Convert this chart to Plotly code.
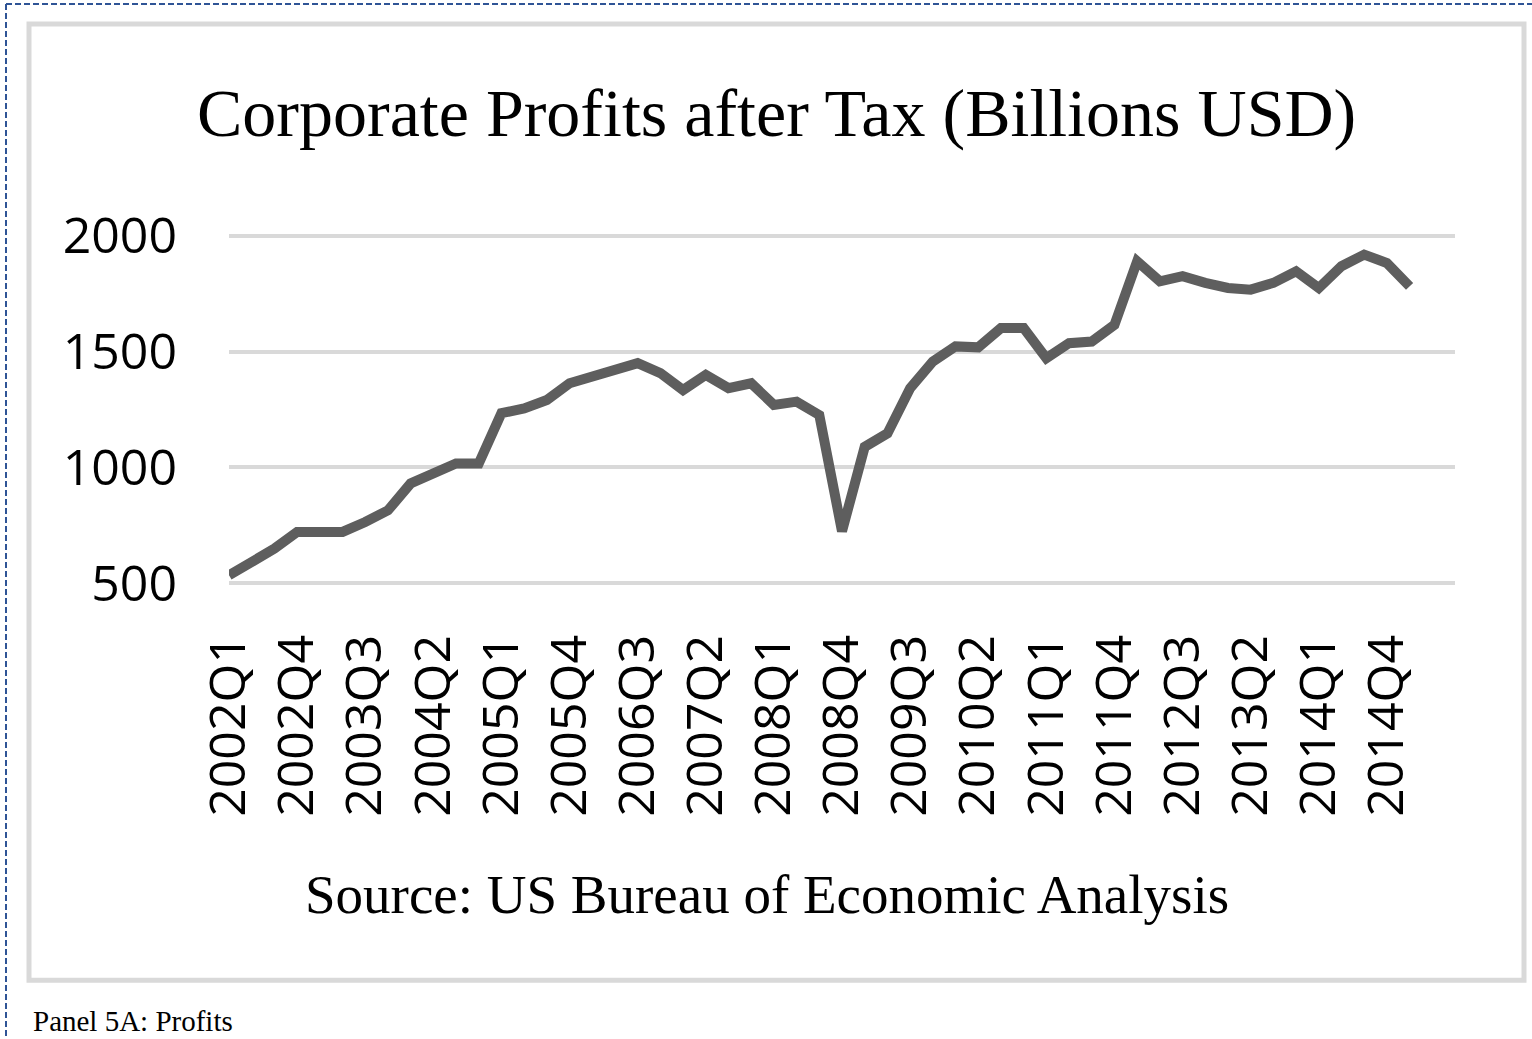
import plotly.graph_objects as go

# ---- data ----
quarters = [f"{y}Q{q}" for y in range(2002, 2016) for q in range(1, 5)][:55]  # 2002Q1 .. 2015Q3
profits = [535, 592, 650, 722, 722, 722, 765, 815, 931, 974,
           1017, 1017, 1234, 1255, 1291, 1363, 1392, 1428, 1450, 1407,
           1334, 1399, 1342, 1363, 1270, 1284, 1226, 725, 1089, 1147,
           1342, 1457, 1522, 1518, 1601, 1601, 1471, 1536, 1543, 1615,
           1889, 1803, 1825, 1796, 1774, 1767, 1796, 1846, 1774, 1868,
           1918, 1882, 1781]
x_ticklabels = quarters[0:52:3]
y_ticks = [500, 1000, 1500, 2000]
y_range = [450, 2050]

title_text = "Corporate Profits after Tax (Billions USD)"
source_text = "Source: US Bureau of Economic Analysis"
panel_text = "Panel 5A: Profits"

# ---- layout geometry (pixels) ----
W, H = 1532, 1039
PX_PER_UNIT = (583 - 236) / 1500.0
PL, PR = 229, 1455
PT = 236 - (y_range[1] - 2000) * PX_PER_UNIT
PB = 583 + (500 - y_range[0]) * PX_PER_UNIT


def px(x):
    return (x - PL) / (PR - PL)


def py(y):
    return (PB - y) / (PB - PT)


fig = go.Figure()
fig.add_trace(go.Scatter(
    x=quarters[:len(profits)], y=profits, mode="lines",
    line=dict(color="#5e5e5e", width=10, shape="linear"),
    hoverinfo="x+y", showlegend=False,
))

fig.update_layout(
    width=W, height=H,
    margin=dict(l=PL, r=W - PR, t=PT, b=H - PB, autoexpand=False),
    paper_bgcolor="white", plot_bgcolor="white",
    xaxis=dict(
        type="category", categoryorder="array", categoryarray=quarters,
        range=[0, 54], tickmode="array", tickvals=x_ticklabels, ticktext=x_ticklabels,
        tickangle=-90, showgrid=False, zeroline=False, showline=False, ticks="",
        ticklabelstandoff=29,
        tickfont=dict(family="Open Sans", size=50, color="#000000"),
    ),
    yaxis=dict(
        range=y_range, tickmode="array", tickvals=y_ticks,
        showgrid=True, gridcolor="#d9d9d9", gridwidth=4,
        zeroline=False, showline=False, ticks="", ticklabelstandoff=51,
        tickfont=dict(family="Open Sans", size=50, color="#000000"),
    ),
    shapes=[
        # outer dashed frame
        dict(type="line", xref="paper", yref="paper", x0=px(6), x1=px(1532), y0=py(5), y1=py(5),
             line=dict(color="#2f5496", width=2, dash="6px,3px"), layer="above"),
        dict(type="line", xref="paper", yref="paper", x0=px(6), x1=px(6), y0=py(5), y1=py(1039),
             line=dict(color="#2f5496", width=2, dash="6px,3px"), layer="above"),
        # chart border
        dict(type="rect", xref="paper", yref="paper", x0=px(29), x1=px(1524), y0=py(25), y1=py(979),
             line=dict(color="#d9d9d9", width=5), layer="below"),
    ],
    annotations=[
        dict(text=title_text, xref="paper", yref="paper", x=px(776), y=py(114),
             xanchor="center", yanchor="middle", showarrow=False,
             font=dict(family="Liberation Serif", size=68, color="#000000")),
        dict(text=source_text, xref="paper", yref="paper", x=px(767), y=py(893),
             xanchor="center", yanchor="middle", showarrow=False,
             font=dict(family="Liberation Serif", size=55, color="#000000")),
        dict(text=panel_text, xref="paper", yref="paper", x=px(31), y=py(1020),
             xanchor="left", yanchor="middle", showarrow=False,
             font=dict(family="Liberation Serif", size=29, color="#000000")),
    ],
)

fig.write_html("out.html", config={"displayModeBar": False},
               post_script="document.body.style.margin='0';document.body.style.overflow='hidden';")
